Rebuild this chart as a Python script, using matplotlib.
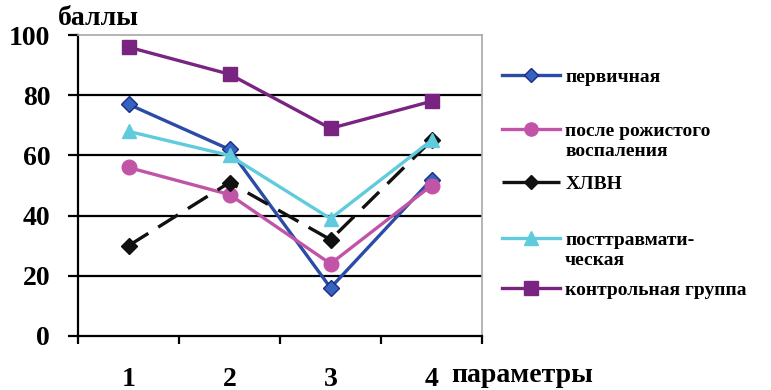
import matplotlib
matplotlib.use('Agg')
import matplotlib.pyplot as plt
from matplotlib.lines import Line2D

params = ['1', '2', '3', '4']
primary = [77, 62, 16, 52]
erysipelas = [56, 47, 24, 50]
cvi = [30, 51, 32, 65]
posttraum = [68, 60, 39, 65]
control = [96, 87, 69, 78]

labels = ['первичная', 'после рожистого\nвоспаления', 'ХЛВН',
          'посттравмати-\nческая', 'контрольная группа']
series = [primary, erysipelas, cvi, posttraum, control]
styles = [
    dict(color='#2B4CA6', marker='D', ms=8, mfc='#3563BE', mec='#1E2C86', ls='-'),
    dict(color='#C254A8', marker='o', ms=10.5, mfc='#C254A8', mec='#C254A8', ls='-'),
    dict(color='#111111', marker='D', ms=8, mfc='#111111', mec='#111111', ls=(0, (7, 3.5))),
    dict(color='#5FCBDD', marker='^', ms=10.5, mfc='#5FCBDD', mec='#5FCBDD', ls='-'),
    dict(color='#7A2481', marker='s', ms=10.5, mfc='#7A2481', mec='#7A2481', ls='-'),
]

plt.rcParams['font.family'] = ['Liberation Serif', 'DejaVu Serif']
plt.rcParams['font.weight'] = 'bold'

fig = plt.figure(figsize=(7.71, 3.9), dpi=100)
ax = fig.add_axes([0.1012, 0.1385, 0.5240, 0.7715])

xs = [i + 0.5 for i in range(len(params))]
for vals, st in zip(series, styles):
    ax.plot(xs, vals, lw=2.4, zorder=3, **st)

ax.set_xlim(0, 4)
ax.set_ylim(0, 100)
ax.set_yticks(range(0, 101, 20))
for y in range(20, 100, 20):
    ax.axhline(y, color='black', lw=1.6, zorder=1)

ax.set_xticks(range(0, 5))
ax.set_xticklabels([])
ax.set_xticks(xs, minor=True)
ax.set_xticklabels(params, minor=True, fontsize=20, fontweight='bold')
ax.tick_params(axis='x', which='minor', length=0, pad=22)
ax.tick_params(axis='x', which='major', direction='out', length=6, width=1.6)
ax.tick_params(axis='y', direction='out', length=7, width=1.6, pad=13,
               labelsize=20)
for t in ax.get_yticklabels():
    t.set_fontweight('bold')

ax.spines['left'].set_linewidth(1.6)
ax.spines['bottom'].set_linewidth(1.6)
for s in ('top', 'right'):
    ax.spines[s].set_color('#A8A8A8')
    ax.spines[s].set_linewidth(1.2)

fig.text(0.075, 0.953, 'баллы', fontsize=20, fontweight='bold', va='center')
fig.text(0.585, 0.038, 'параметры', fontsize=20, fontweight='bold', va='center')

# legend drawn by hand so two-line labels keep the key on the first line
key_y = [0.808, 0.670, 0.533, 0.390, 0.262]
line_step = 20 / 390
for lab, st, ky in zip(labels, styles, key_y):
    fig.add_artist(Line2D([0.651, 0.726], [ky, ky], transform=fig.transFigure,
                          color=st['color'], lw=2.4, ls=st['ls']))
    fig.add_artist(Line2D([0.6885], [ky], transform=fig.transFigure,
                          marker=st['marker'], ms=st['ms'] - 1,
                          mfc=st['mfc'], mec=st['mec'], ls='none'))
    for k, part in enumerate(lab.split('\n')):
        fig.text(0.733, ky - 0.006 - k * line_step, part, fontsize=14,
                 fontweight='bold', va='center')

fig.savefig('out.png', dpi=100)
